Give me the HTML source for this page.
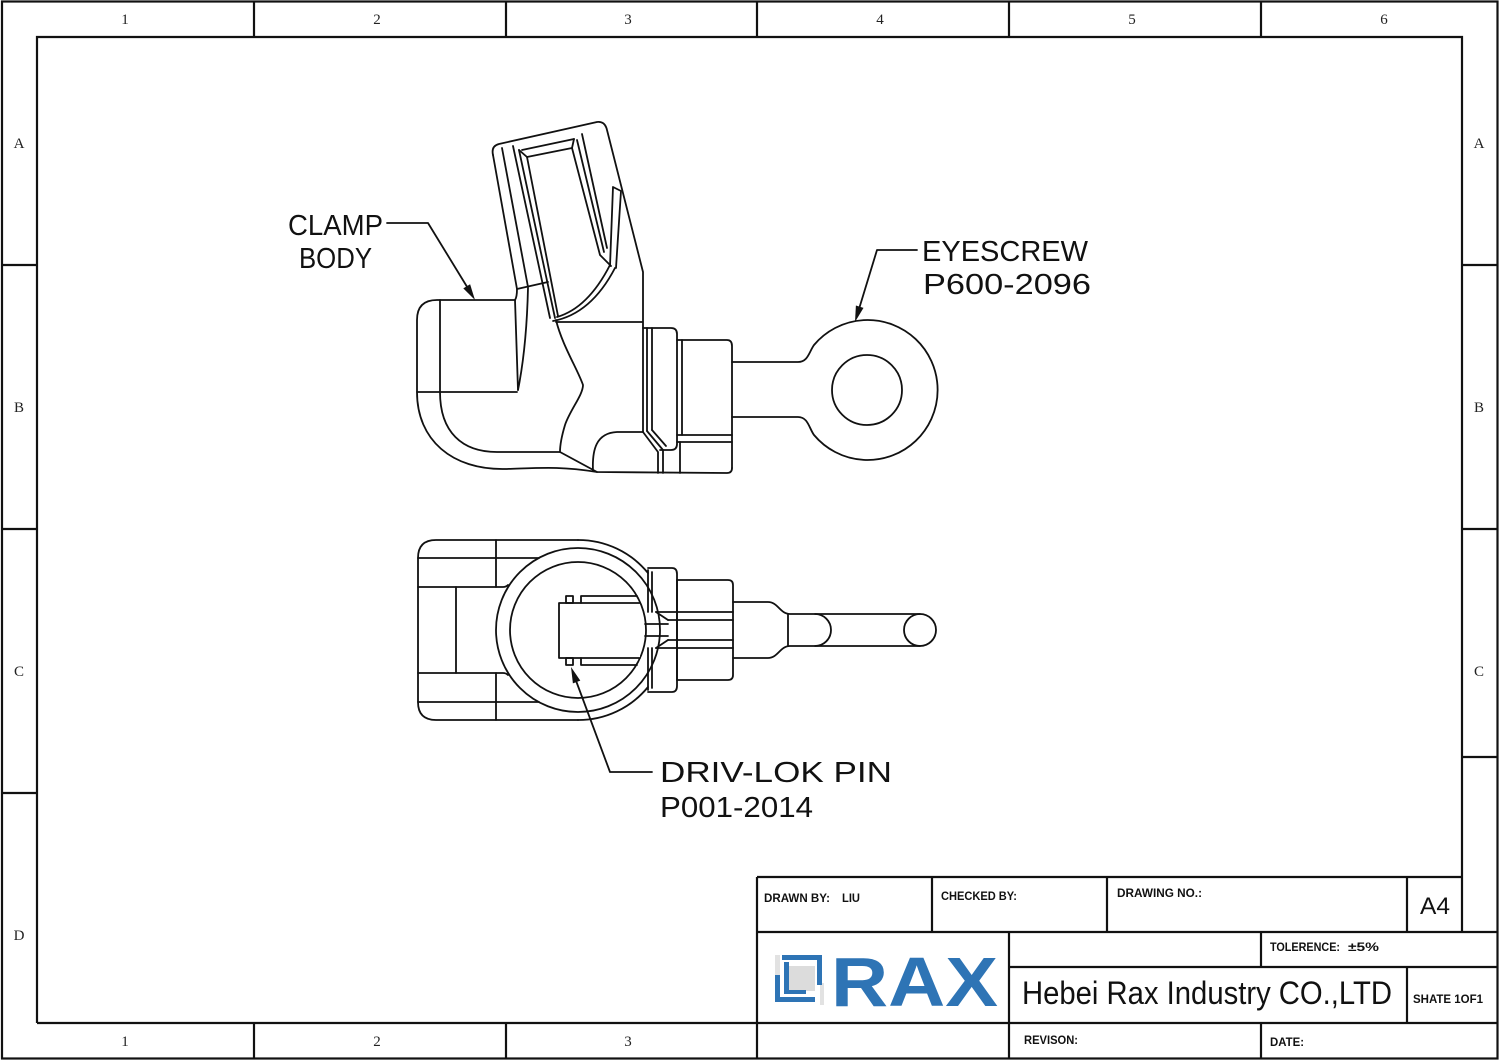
<!DOCTYPE html>
<html>
<head>
<meta charset="utf-8">
<style>
html,body{margin:0;padding:0;background:#fff;}
svg{display:block;}
.f{fill:none;stroke:#111;stroke-width:2.2;}
.d{fill:none;stroke:#111;stroke-width:1.8;stroke-linejoin:round;stroke-linecap:round;}
.n{font-family:"Liberation Serif",serif;font-size:15px;fill:#222;}
.c{font-family:"Liberation Sans",sans-serif;font-size:29px;fill:#111;}
.t{font-family:"Liberation Sans Narrow","Liberation Sans",sans-serif;font-size:12px;fill:#111;font-weight:bold;}
</style>
</head>
<body>
<svg width="1500" height="1062" viewBox="0 0 1500 1062" xmlns="http://www.w3.org/2000/svg">
<rect x="0" y="0" width="1500" height="1062" fill="#fff"/>

<!-- outer frame -->
<rect class="f" x="2" y="1.5" width="1495.5" height="1057"/>
<!-- inner frame -->
<path class="f" d="M37,1023 V37 H1462 V932"/>
<path class="f" d="M37,1023 H1497.5"/>
<!-- top dividers -->
<path class="f" d="M254,1.5V37 M506,1.5V37 M757,1.5V37 M1009,1.5V37 M1261,1.5V37"/>
<!-- bottom dividers -->
<path class="f" d="M254,1023V1058.5 M506,1023V1058.5"/>
<!-- left dividers -->
<path class="f" d="M2,265H37 M2,529H37 M2,793H37"/>
<!-- right dividers -->
<path class="f" d="M1462,265H1497.5 M1462,529H1497.5 M1462,757H1497.5"/>

<!-- border labels -->
<g class="n" text-anchor="middle">
<text x="125" y="24">1</text><text x="377" y="24">2</text><text x="628" y="24">3</text>
<text x="880" y="24">4</text><text x="1132" y="24">5</text><text x="1384" y="24">6</text>
<text x="125" y="1046">1</text><text x="377" y="1046">2</text><text x="628" y="1046">3</text>
<text x="19" y="148">A</text><text x="19" y="412">B</text><text x="19" y="676">C</text><text x="19" y="940">D</text>
<text x="1479" y="148">A</text><text x="1479" y="412">B</text><text x="1479" y="676">C</text>
</g>

<!-- ===== SIDE VIEW ===== -->
<g class="d">
<path d="M515,300 H437 Q417,300 417,320 V392 C417,440 452,470 505,469 C540,468 560,466 597,472 L727,473 Q732,473 732,468"/>
<path d="M417,392 H517"/>
<path d="M440,300 V392 C440,432 462,452 497,452 H560 L597,472"/>
<path d="M515,300 Q517,297 517,289 L548,282"/>
<path d="M515,300 L518,390"/>
<path d="M528,288 C527,330 523,365 518,390"/>
<path d="M556,320 C562,345 578,370 583,385 C583,395 570,410 565,425 C562,435 560,445 560,452"/>
<path d="M556,322 H642"/>
<path d="M493,155 Q491,146 499,144 L597,122 Q605,121 607,130 L643,272 V432"/>
<path d="M493,155 L517,289"/>
<path d="M502,148 L528,287"/>
<path d="M513,146 L550,318"/>
<path d="M519,150 L555,318"/>
<path d="M527,157 L558,316"/>
<path d="M522,150 L574,139"/>
<path d="M527,157 L572,148"/>
<path d="M519,150 L527,157 M574,139 L572,148"/>
<path d="M572,148 L600,255 L611,266"/>
<path d="M577,140 L604,252"/>
<path d="M582,134 L607,248"/>
<path d="M553,321 Q591,314 615,268"/>
<path d="M557,317 Q588,308 610,265"/>
<path d="M613,187 L621,191 L616,268 M613,187 L610,266"/>
<path d="M643,328 H671 Q677,328 677,334 V444 Q677,450 671,450 H660"/>
<path d="M647,328 V431 M652,328 V430"/>
<path d="M643,432 L658,452 V473 M647,431 L663,450 V473 M652,430 L666,446"/>
<path d="M593,471 C592,450 596,433 617,432 H643"/>
<path d="M677,340 H727 Q732,340 732,346 V468"/>
<path d="M682,340 V435"/>
<path d="M677,435 H732 M677,442 H732"/>
<path d="M680,442 V473"/>
<path d="M732,362 H798 C808,362 809,352 814,345 A70,70 0 1 1 814,435 C809,428 808,417 798,417 H732"/>
<circle cx="867" cy="390" r="35"/>
</g>

<!-- ===== BOTTOM VIEW ===== -->
<g class="d">
<path d="M578,540 H436 Q418,540 418,558 V702 Q418,720 436,720 H578"/>
<path d="M578,540 A90,90 0 0 1 648,573"/>
<path d="M578,720 A90,90 0 0 0 648,687"/>
<circle cx="578" cy="630" r="82"/>
<circle cx="578" cy="630" r="68"/>
<path d="M418,558 H539 M418,702 H539"/>
<path d="M418,587 H503 Q506,587 508,585 M418,673 H503 Q506,673 508,675"/>
<path d="M496,540 V587 M496,673 V720"/>
<path d="M456,587 V673"/>
<path d="M640,603 H559 V658 H640" fill="#fff"/>
<rect x="566" y="596" width="7" height="7"/>
<rect x="566" y="658" width="7" height="7"/>
<path d="M581,603 V596 H637 M581,658 V665 H637"/>
<path d="M648,568 H672 Q677,568 677,574 V686 Q677,692 672,692 H648"/>
<path d="M648,570 V612 M648,648 V690 M652,572 V612 M652,648 V688"/>
<path d="M677,580 H728 Q733,580 733,585 V675 Q733,680 728,680 H677"/>
<path d="M677,580 V680"/>
<path d="M656,612 H733 M656,648 H733 M668,620 H733 M668,640 H733"/>
<path d="M656,612 L668,620 M656,648 L668,640"/>
<path d="M645,624 H668 M645,636 H668"/>
<path d="M733,602 H768 C778,602 780,614 790,614 H920"/>
<path d="M733,658 H768 C778,658 780,646 790,646 H920"/>
<path d="M788,614 V646"/>
<path d="M815,614 A16,16 0 0 1 815,646"/>
<circle cx="920" cy="630" r="16"/>
</g>

<!-- leaders -->
<g class="d">
<path d="M387,223 H428 L469,290"/>
<path d="M917,250 H877 L859,309"/>
<path d="M652,772 H610 L575,678"/>
</g>
<g fill="#111">
<polygon points="475,300 463.3,288.4 470.1,284.2"/>
<polygon points="855,322 863.5,307.9 855.9,305.5"/>
<polygon points="571,667 580.3,680.6 572.9,683.4"/>
</g>

<!-- CAD labels -->
<g class="c">
<text x="288" y="235" textLength="95" lengthAdjust="spacingAndGlyphs">CLAMP</text>
<text x="299" y="268" textLength="73" lengthAdjust="spacingAndGlyphs">BODY</text>
<text x="922" y="261" textLength="166" lengthAdjust="spacingAndGlyphs">EYESCREW</text>
<text x="923" y="294" textLength="168" lengthAdjust="spacingAndGlyphs">P600-2096</text>
<text x="660" y="782" textLength="232" lengthAdjust="spacingAndGlyphs">DRIV-LOK PIN</text>
<text x="660" y="817" textLength="153" lengthAdjust="spacingAndGlyphs">P001-2014</text>
</g>

<!-- ===== TITLE BLOCK ===== -->
<g class="f">
<path d="M757,877 H1462"/>
<path d="M757,877 V1058.5"/>
<path d="M932,877 V932 M1107,877 V932 M1407,877 V932"/>
<path d="M757,932 H1497.5"/>
<path d="M1009,932 V1058.5"/>
<path d="M1009,967 H1497.5"/>
<path d="M1261,932 V967 M1261,1023 V1058.5"/>
<path d="M1407,967 V1023"/>
</g>

<!-- logo -->
<g>
<rect x="775" y="955" width="5" height="20" fill="#e2e2e2"/>
<rect x="820" y="983" width="4" height="22" fill="#e2e2e2"/>
<rect x="788" y="966" width="27" height="25" fill="#dcdcdc"/>
<rect x="782" y="955" width="40" height="5" fill="#2e74b5"/>
<rect x="817" y="955" width="5" height="30" fill="#2e74b5"/>
<rect x="775" y="975" width="5" height="27" fill="#2e74b5"/>
<rect x="775" y="997" width="40" height="5" fill="#2e74b5"/>
<rect x="784" y="962" width="5" height="32" fill="#2e74b5"/>
<rect x="784" y="990" width="22" height="4" fill="#2e74b5"/>
<text x="831" y="1006" font-family="Liberation Sans,sans-serif" font-weight="bold" font-size="70" fill="#2e74b5" textLength="167" lengthAdjust="spacingAndGlyphs">RAX</text>
</g>

<!-- title texts -->
<g class="t">
<text x="764" y="902" textLength="66" lengthAdjust="spacingAndGlyphs">DRAWN BY:</text>
<text x="842" y="902" textLength="18" lengthAdjust="spacingAndGlyphs">LIU</text>
<text x="941" y="900" textLength="76" lengthAdjust="spacingAndGlyphs">CHECKED BY:</text>
<text x="1117" y="897" textLength="85" lengthAdjust="spacingAndGlyphs">DRAWING NO.:</text>
<text x="1270" y="951" textLength="70" lengthAdjust="spacingAndGlyphs">TOLERENCE:</text>
<text x="1348" y="951" textLength="31" lengthAdjust="spacingAndGlyphs">±5%</text>
<text x="1413" y="1003" textLength="70" lengthAdjust="spacingAndGlyphs">SHATE 1OF1</text>
<text x="1024" y="1044" textLength="54" lengthAdjust="spacingAndGlyphs">REVISON:</text>
<text x="1270" y="1046" textLength="34" lengthAdjust="spacingAndGlyphs">DATE:</text>
</g>
<text x="1420" y="914" font-family="Liberation Sans,sans-serif" font-size="24" fill="#111" textLength="30" lengthAdjust="spacingAndGlyphs">A4</text>
<text x="1022" y="1004" font-family="Liberation Sans Narrow,Liberation Sans,sans-serif" font-size="32" fill="#111" textLength="370" lengthAdjust="spacingAndGlyphs">Hebei Rax Industry CO.,LTD</text>
</svg>
</body>
</html>
